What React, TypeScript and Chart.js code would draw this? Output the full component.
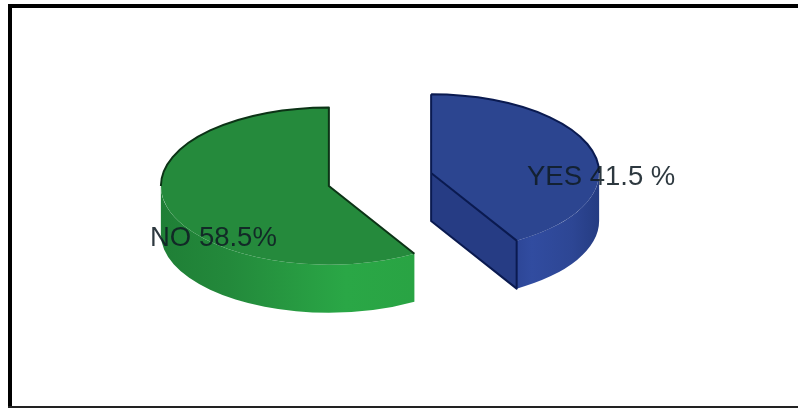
import { useEffect, useRef } from "react";
import { Chart, registerables } from "chart.js";

Chart.register(...registerables);

const categories = ["YES", "NO"];
const shares = [41.5, 58.5];
const sliceLabels = ["YES 41.5 %", "NO 58.5%"];
const faceColors = ["#2c4590", "#258a3c"];
const edgeColors = ["#0a1a50", "#0c3316"];
const wallStops: [number, string][][] = [
  [
    [0.72, "#2a4290"],
    [0.8, "#314ca0"],
    [0.92, "#2d4694"],
    [1, "#253c82"],
  ],
  [
    [0, "#1f7f36"],
    [0.2, "#23893b"],
    [0.55, "#2aa746"],
    [0.8, "#29a343"],
    [1, "#26933e"],
  ],
];
const cutWallColors = ["#263c84", "#258a3c"];
const explodeDistance = [53, 53];
const labelPositions = [
  [527, 177],
  [150, 238],
];

const TILT = 0.468;
const DEPTH = 48;
const CENTER_Y = 179.5;

// Draws each slice as a flattened, extruded wedge: walls first, then the arc element as its lid.
const extrudedPie = {
  id: "extrudedPie",
  beforeDatasetDraw(chart: any, args: any) {
    const { ctx } = chart;
    const arcs = args.meta.data;
    arcs.forEach((arc: any, i: number) => {
      const { x, y, startAngle, endAngle, outerRadius } = arc;
      const mid = (startAngle + endAngle) / 2;
      const ox = Math.cos(mid) * explodeDistance[i];
      const oy = Math.sin(mid) * explodeDistance[i];
      const sx = x + ox;
      const sy = CENTER_Y + oy * TILT;
      const ry = outerRadius * TILT;

      // Flat walls along the cut edges that face the viewer
      ctx.save();
      [startAngle, endAngle].forEach((a: number) => {
        const ex = sx + Math.cos(a) * outerRadius;
        const ey = sy + Math.sin(a) * ry;
        if (Math.sin(a) > 0 && ex > sx === (i === 0)) {
          ctx.beginPath();
          ctx.moveTo(sx, sy);
          ctx.lineTo(ex, ey);
          ctx.lineTo(ex, ey + DEPTH);
          ctx.lineTo(sx, sy + DEPTH);
          ctx.closePath();
          ctx.fillStyle = cutWallColors[i];
          ctx.fill();
        }
      });

      // Curved outer wall on the visible front half of the rim
      const from = Math.max(startAngle, 0);
      const to = Math.min(endAngle, Math.PI);
      if (to > from) {
        const g = ctx.createLinearGradient(sx - outerRadius, 0, sx + outerRadius, 0);
        wallStops[i].forEach(([pos, col]) => g.addColorStop(pos, col));
        ctx.beginPath();
        ctx.ellipse(sx, sy, outerRadius, ry, 0, from, to);
        ctx.ellipse(sx, sy + DEPTH, outerRadius, ry, 0, to, from, true);
        ctx.closePath();
        ctx.fillStyle = g;
        ctx.fill();
      }
      ctx.restore();

      // Lid: the library's own arc element, squashed and moved out along its bisector
      ctx.save();
      ctx.translate(sx, sy);
      ctx.scale(1, TILT);
      ctx.translate(-x, -y);
      arc.draw(ctx);
      ctx.restore();

      // Dark outlines: back rim, cut edges and the vertical corners
      const px = (a: number) => sx + Math.cos(a) * outerRadius;
      const py = (a: number) => sy + Math.sin(a) * ry;
      ctx.save();
      ctx.strokeStyle = edgeColors[i];
      ctx.lineWidth = 2;
      ctx.lineJoin = "round";
      ctx.beginPath();
      if (i === 0) {
        ctx.ellipse(sx, sy, outerRadius, ry, 0, startAngle, 0);
        ctx.moveTo(px(startAngle), py(startAngle));
        ctx.lineTo(sx, sy + DEPTH);
        ctx.lineTo(px(endAngle), py(endAngle) + DEPTH);
        ctx.lineTo(px(endAngle), py(endAngle));
        ctx.lineTo(sx, sy);
      } else {
        ctx.ellipse(sx, sy, outerRadius, ry, 0, Math.PI, Math.PI * 1.5);
        ctx.lineTo(sx, sy);
        ctx.lineTo(px(startAngle), py(startAngle));
      }
      ctx.stroke();
      ctx.restore();
    });
    return false;
  },
  afterDatasetsDraw(chart: any) {
    const { ctx } = chart;
    ctx.save();
    ctx.font = '27.5px "Liberation Sans", Arial, sans-serif';
    ctx.fillStyle = "rgba(16,28,36,0.88)";
    ctx.textAlign = "left";
    ctx.textBaseline = "middle";
    sliceLabels.forEach((text, i) => {
      ctx.fillText(text, labelPositions[i][0], labelPositions[i][1]);
    });
    ctx.restore();
  },
};

export default function App() {
  const canvasRef = useRef<HTMLCanvasElement | null>(null);

  useEffect(() => {
    document.body.style.margin = "0";
    document.body.style.background = "#ffffff";
    const chart = new Chart(canvasRef.current!, {
      type: "pie",
      data: {
        labels: categories,
        datasets: [
          {
            data: shares,
            backgroundColor: faceColors,
            borderColor: faceColors,
            borderWidth: 0,
          },
        ],
      },
      options: {
        animation: false,
        responsive: false,
        radius: 168,
        layout: { padding: { right: 38 } },
        plugins: { legend: { display: false }, tooltip: { enabled: false } },
      },
      plugins: [extrudedPie],
    });
    return () => chart.destroy();
  }, []);

  return (
    <div style={{ position: "relative", width: 798, height: 408, overflow: "hidden", background: "#fff" }}>
      <canvas ref={canvasRef} width={798} height={408} style={{ display: "block", position: "absolute", left: 0, top: 0 }} />
      {/* Frame: open on the right, running off the page edge */}
      <div style={{ position: "absolute", left: 8, top: 4, width: 790, height: 4, background: "#000" }} />
      <div style={{ position: "absolute", left: 8, top: 4, width: 4, height: 404, background: "#000" }} />
      <div style={{ position: "absolute", left: 8, top: 406, width: 790, height: 2, background: "#222" }} />
    </div>
  );
}
